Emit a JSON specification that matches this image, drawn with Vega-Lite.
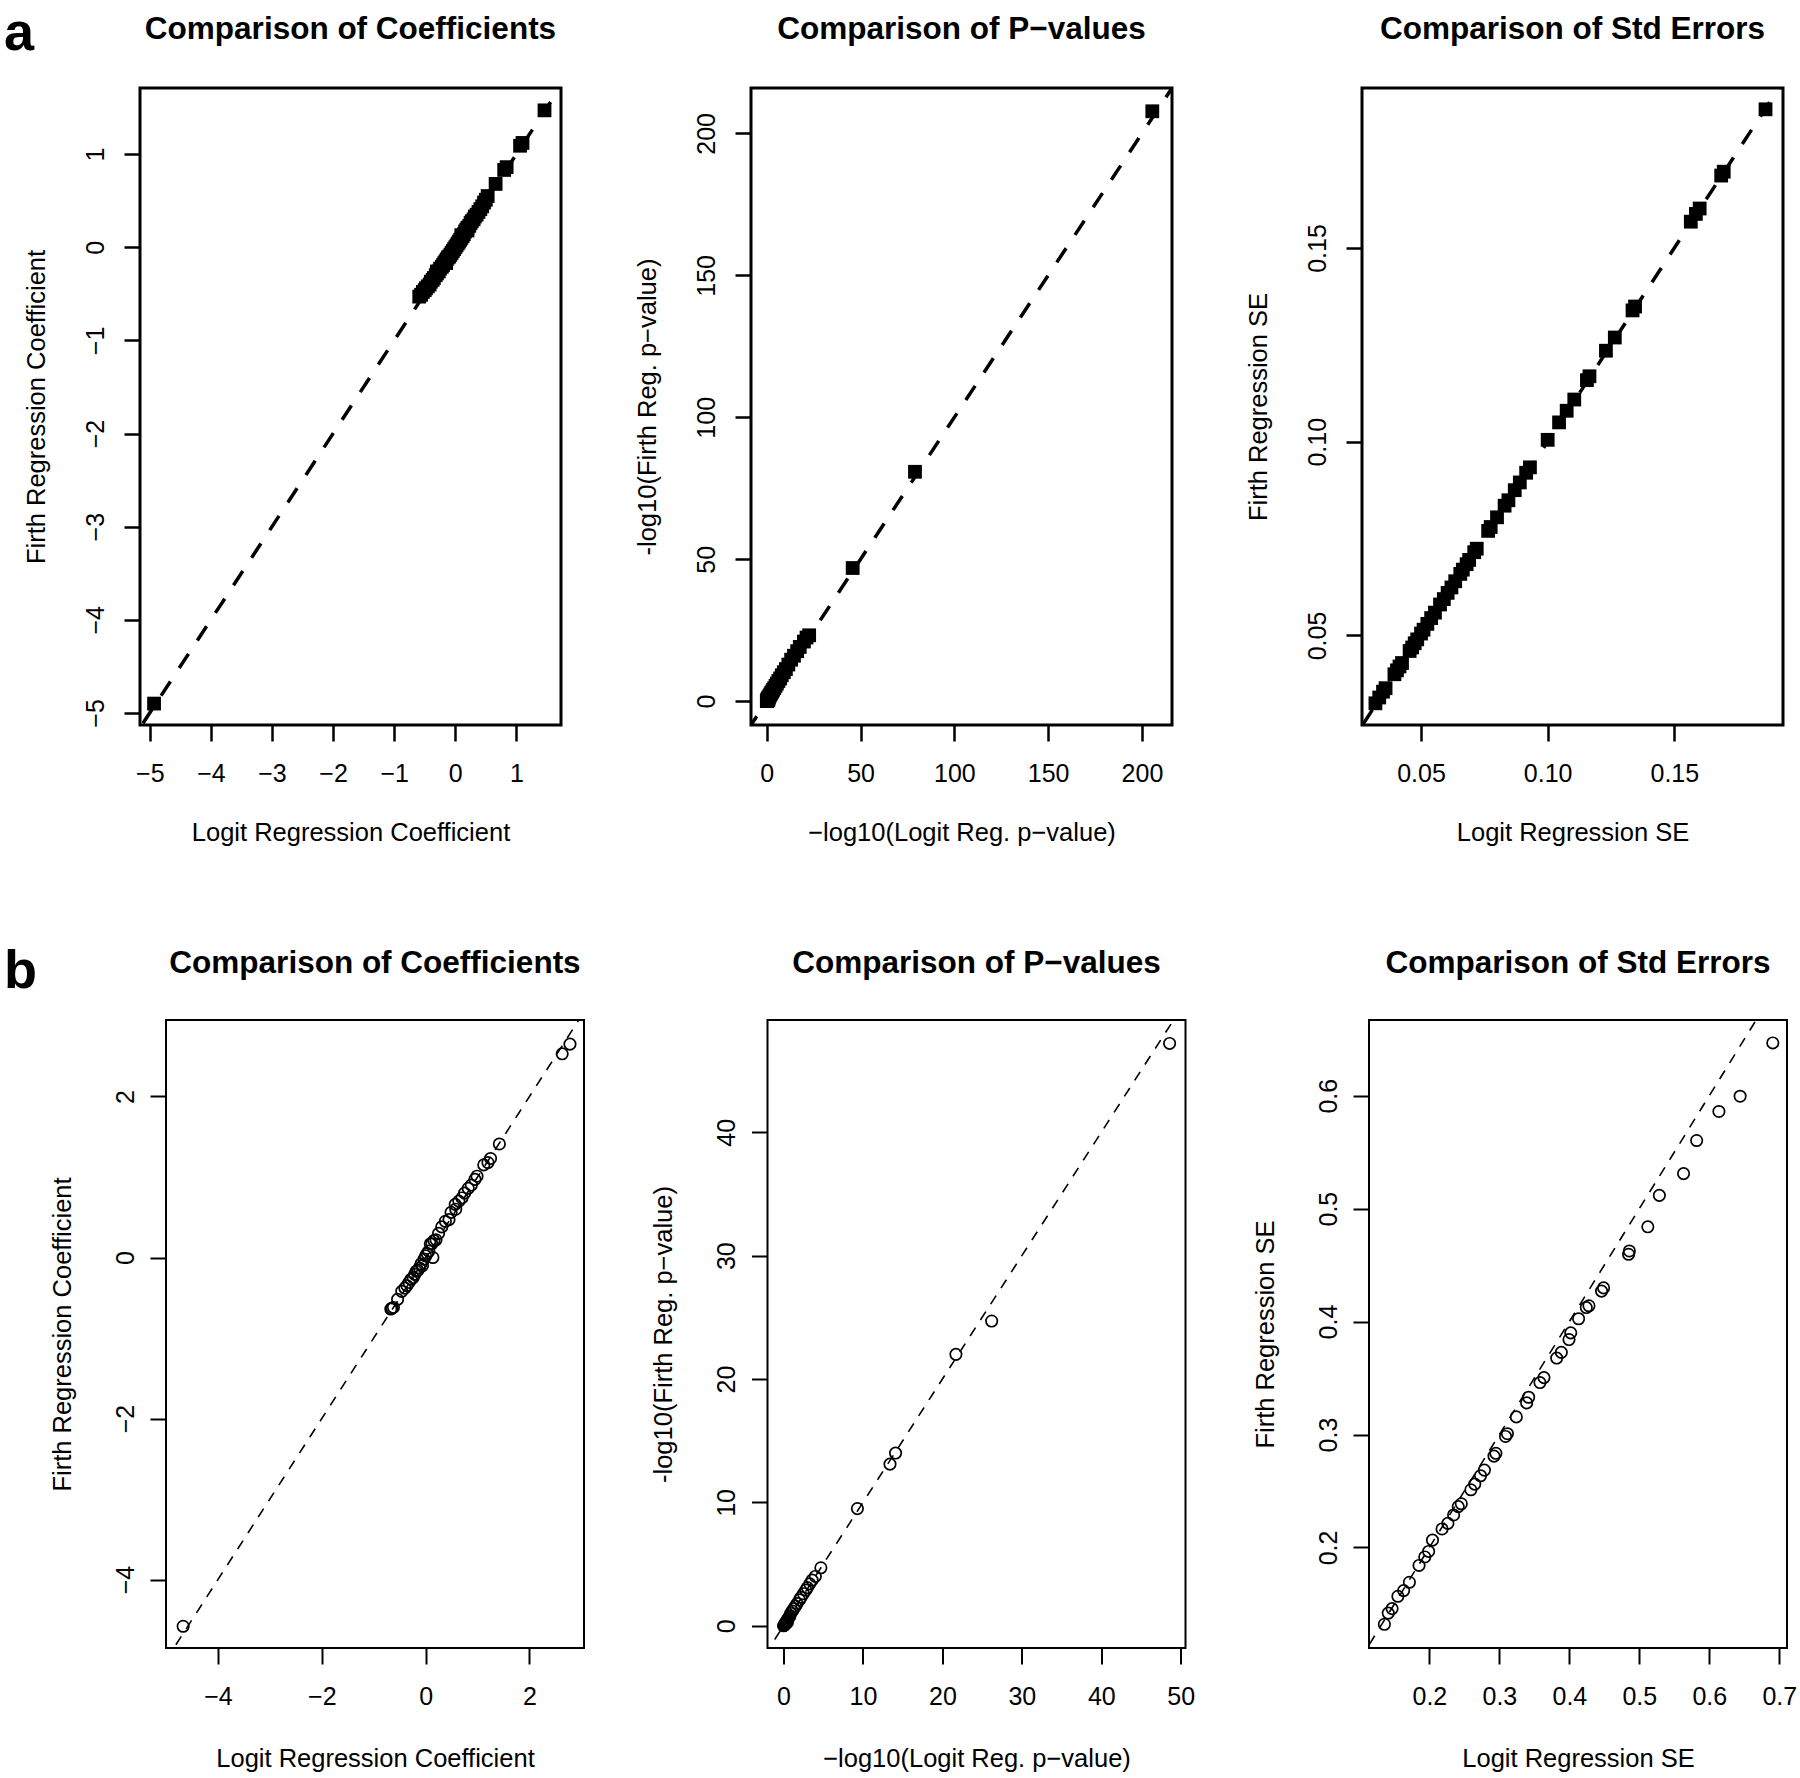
{
  "$schema": "https://vega.github.io/schema/vega-lite/v6.json",
  "background": "white",
  "padding": {"left": 4, "top": 6, "right": 0, "bottom": 0},
  "config": {
    "font": "Liberation Sans",
    "axis": {"labelFont": "Liberation Sans", "titleFont": "Liberation Sans", "labelColor": "black", "titleColor": "black", "titleFontWeight": "normal", "tickColor": "black", "domain": false, "grid": false, "labelFontSize": 25, "titleFontSize": 25.5, "tickSize": 16, "labelFlush": false, "labelOverlap": false},
    "title": {"font": "Liberation Sans", "fontSize": 31.5, "fontWeight": "bold", "color": "black", "anchor": "middle", "frame": "group", "baseline": "alphabetic", "offset": 42.7},
    "concat": {"spacing": 0}
  },
  "bounds": "flush",
  "spacing": 932,
  "vconcat": [
    {
      "bounds": "flush",
      "spacing": 0,
      "hconcat": [
        {"width": 136, "height": 637, "data": {"values": []}, "mark": "point", "view": {"stroke": null}, "title": {"text": "a", "fontSize": 54, "anchor": "start", "offset": 27.2}},
        {
          "bounds": "flush",
          "spacing": 190,
          "hconcat": [
            {
              "width": 421, "height": 637,
              "view": {"stroke": "black", "strokeWidth": 3},
              "title": {"text": "Comparison of Coefficients"},
              "encoding": {
                "x": {"field": "logit", "type": "quantitative", "scale": {"domain": [-5.16, 1.73], "nice": false, "zero": false}, "axis": {"title": "Logit Regression Coefficient", "values": [-5, -4, -3, -2, -1, 0, 1], "tickWidth": 2.5, "labelPadding": 20, "titleY": 115, "titleBaseline": "alphabetic"}},
                "y": {"field": "firth", "type": "quantitative", "scale": {"domain": [-5.13, 1.71], "nice": false, "zero": false}, "axis": {"title": "Firth Regression Coefficient", "values": [-5, -4, -3, -2, -1, 0, 1], "tickWidth": 2.5, "labelAngle": -90, "labelAlign": "center", "labelBaseline": "alphabetic", "labelPadding": 21, "titleX": -96, "titleY": 318.5, "titleAngle": -90, "titleAlign": "center", "titleBaseline": "alphabetic"}}
              },
              "layer": [
                {
                  "data": {"values": [
                    {"logit": -4.93, "firth": -4.9},
                    {"logit": -0.59, "firth": -0.53}, {"logit": -0.56, "firth": -0.51}, {"logit": -0.53, "firth": -0.48}, {"logit": -0.5, "firth": -0.46}, {"logit": -0.48, "firth": -0.44}, {"logit": -0.45, "firth": -0.42}, {"logit": -0.42, "firth": -0.4}, {"logit": -0.4, "firth": -0.37}, {"logit": -0.37, "firth": -0.35}, {"logit": -0.35, "firth": -0.33}, {"logit": -0.32, "firth": -0.3}, {"logit": -0.3, "firth": -0.28}, {"logit": -0.3, "firth": -0.26}, {"logit": -0.27, "firth": -0.26}, {"logit": -0.25, "firth": -0.23}, {"logit": -0.22, "firth": -0.21}, {"logit": -0.2, "firth": -0.19}, {"logit": -0.18, "firth": -0.17}, {"logit": -0.16, "firth": -0.15}, {"logit": -0.15, "firth": -0.17}, {"logit": -0.14, "firth": -0.13}, {"logit": -0.12, "firth": -0.11}, {"logit": -0.1, "firth": -0.1}, {"logit": -0.08, "firth": -0.08}, {"logit": -0.06, "firth": -0.06}, {"logit": -0.04, "firth": -0.04}, {"logit": -0.02, "firth": -0.02}, {"logit": 0.0, "firth": 0.0}, {"logit": 0.02, "firth": 0.02}, {"logit": 0.04, "firth": 0.04}, {"logit": 0.06, "firth": 0.06}, {"logit": 0.08, "firth": 0.08}, {"logit": 0.1, "firth": 0.1}, {"logit": 0.1, "firth": 0.13}, {"logit": 0.12, "firth": 0.12}, {"logit": 0.14, "firth": 0.14}, {"logit": 0.16, "firth": 0.17}, {"logit": 0.18, "firth": 0.19}, {"logit": 0.2, "firth": 0.21}, {"logit": 0.2, "firth": 0.18}, {"logit": 0.23, "firth": 0.23}, {"logit": 0.25, "firth": 0.26}, {"logit": 0.27, "firth": 0.28}, {"logit": 0.3, "firth": 0.3}, {"logit": 0.32, "firth": 0.33}, {"logit": 0.35, "firth": 0.35}, {"logit": 0.38, "firth": 0.38}, {"logit": 0.41, "firth": 0.41}, {"logit": 0.44, "firth": 0.44}, {"logit": 0.47, "firth": 0.48}, {"logit": 0.5, "firth": 0.51}, {"logit": 0.53, "firth": 0.55},
                    {"logit": 0.66, "firth": 0.68}, {"logit": 0.8, "firth": 0.83}, {"logit": 0.84, "firth": 0.86}, {"logit": 1.06, "firth": 1.09}, {"logit": 1.1, "firth": 1.12}, {"logit": 1.46, "firth": 1.47}
                  ]},
                  "mark": {"type": "point", "shape": "square", "filled": true, "color": "black", "opacity": 1, "size": 190}
                },
                {
                  "data": {"values": [{"logit": -6, "firth": -6, "logit_end": 2, "firth_end": 2}]},
                  "mark": {"type": "rule", "color": "black", "strokeWidth": 3.5, "strokeDash": [17, 16], "clip": true},
                  "encoding": {"x2": {"field": "logit_end"}, "y2": {"field": "firth_end"}}
                }
              ]
            },
            {
              "width": 421, "height": 637,
              "view": {"stroke": "black", "strokeWidth": 3},
              "title": {"text": "Comparison of P−values"},
              "encoding": {
                "x": {"field": "logit", "type": "quantitative", "scale": {"domain": [-8.4, 216], "nice": false, "zero": false}, "axis": {"title": "−log10(Logit Reg. p−value)", "values": [0, 50, 100, 150, 200], "tickWidth": 2.5, "labelPadding": 20, "titleY": 115, "titleBaseline": "alphabetic"}},
                "y": {"field": "firth", "type": "quantitative", "scale": {"domain": [-8.4, 216], "nice": false, "zero": false}, "axis": {"title": "-log10(Firth Reg. p−value)", "values": [0, 50, 100, 150, 200], "tickWidth": 2.5, "labelAngle": -90, "labelAlign": "center", "labelBaseline": "alphabetic", "labelPadding": 21, "titleX": -96, "titleY": 318.5, "titleAngle": -90, "titleAlign": "center", "titleBaseline": "alphabetic"}}
              },
              "layer": [
                {
                  "data": {"values": [
                    {"logit": 205.5, "firth": 207.8}, {"logit": 79.0, "firth": 80.8}, {"logit": 45.8, "firth": 46.9}, {"logit": 22.6, "firth": 23.2}, {"logit": 21.2, "firth": 22.4}, {"logit": 19.8, "firth": 21.0}, {"logit": 17.6, "firth": 19.1}, {"logit": 16.2, "firth": 17.6}, {"logit": 14.5, "firth": 16.0}, {"logit": 13.0, "firth": 14.6}, {"logit": 11.5, "firth": 12.9}, {"logit": 10.2, "firth": 11.3}, {"logit": 9.1, "firth": 10.2}, {"logit": 8.0, "firth": 9.1}, {"logit": 7.1, "firth": 8.0}, {"logit": 6.2, "firth": 7.1}, {"logit": 5.4, "firth": 6.2}, {"logit": 4.7, "firth": 5.4}, {"logit": 4.0, "firth": 4.6}, {"logit": 3.4, "firth": 4.0}, {"logit": 2.9, "firth": 3.4}, {"logit": 2.4, "firth": 2.9}, {"logit": 2.0, "firth": 2.4}, {"logit": 1.6, "firth": 2.0}, {"logit": 1.3, "firth": 1.6}, {"logit": 1.0, "firth": 1.3}, {"logit": 0.8, "firth": 1.0}, {"logit": 0.6, "firth": 0.8}, {"logit": 0.45, "firth": 0.55}, {"logit": 0.3, "firth": 0.38}, {"logit": 0.2, "firth": 0.25}, {"logit": 0.12, "firth": 0.15}, {"logit": 0.06, "firth": 0.08}, {"logit": 0.02, "firth": 0.03}, {"logit": 0.5, "firth": 0.3}, {"logit": 0.9, "firth": 0.6}, {"logit": 0.25, "firth": 0.1}
                  ]},
                  "mark": {"type": "point", "shape": "square", "filled": true, "color": "black", "opacity": 1, "size": 190}
                },
                {
                  "data": {"values": [{"logit": -20, "firth": -20, "logit_end": 230, "firth_end": 230}]},
                  "mark": {"type": "rule", "color": "black", "strokeWidth": 3.5, "strokeDash": [17, 16], "clip": true},
                  "encoding": {"x2": {"field": "logit_end"}, "y2": {"field": "firth_end"}}
                }
              ]
            },
            {
              "width": 421, "height": 637,
              "view": {"stroke": "black", "strokeWidth": 3},
              "title": {"text": "Comparison of Std Errors"},
              "encoding": {
                "x": {"field": "logit", "type": "quantitative", "scale": {"domain": [0.0267, 0.1929], "nice": false, "zero": false}, "axis": {"title": "Logit Regression SE", "values": [0.05, 0.1, 0.15], "format": ".2f", "tickWidth": 2.5, "labelPadding": 20, "titleY": 115, "titleBaseline": "alphabetic"}},
                "y": {"field": "firth", "type": "quantitative", "scale": {"domain": [0.0269, 0.1913], "nice": false, "zero": false}, "axis": {"title": "Firth Regression SE", "values": [0.05, 0.1, 0.15], "format": ".2f", "tickWidth": 2.5, "labelAngle": -90, "labelAlign": "center", "labelBaseline": "alphabetic", "labelPadding": 21, "titleX": -96, "titleY": 318.5, "titleAngle": -90, "titleAlign": "center", "titleBaseline": "alphabetic"}}
              },
              "layer": [
                {
                  "data": {"values": [
                    {"logit": 0.032, "firth": 0.0325}, {"logit": 0.0335, "firth": 0.034}, {"logit": 0.035, "firth": 0.0355}, {"logit": 0.036, "firth": 0.0364}, {"logit": 0.0395, "firth": 0.04}, {"logit": 0.0405, "firth": 0.041}, {"logit": 0.0415, "firth": 0.042}, {"logit": 0.0425, "firth": 0.0429}, {"logit": 0.0455, "firth": 0.046}, {"logit": 0.0465, "firth": 0.0469}, {"logit": 0.0475, "firth": 0.048}, {"logit": 0.0485, "firth": 0.049}, {"logit": 0.05, "firth": 0.0505}, {"logit": 0.051, "firth": 0.0515}, {"logit": 0.0525, "firth": 0.053}, {"logit": 0.054, "firth": 0.0545}, {"logit": 0.0555, "firth": 0.0559}, {"logit": 0.0575, "firth": 0.058}, {"logit": 0.059, "firth": 0.0594}, {"logit": 0.0605, "firth": 0.061}, {"logit": 0.062, "firth": 0.0624}, {"logit": 0.0635, "firth": 0.064}, {"logit": 0.0655, "firth": 0.0659}, {"logit": 0.0665, "firth": 0.067}, {"logit": 0.068, "firth": 0.0684}, {"logit": 0.069, "firth": 0.0695}, {"logit": 0.071, "firth": 0.0715}, {"logit": 0.072, "firth": 0.0724}, {"logit": 0.0765, "firth": 0.077}, {"logit": 0.0775, "firth": 0.078}, {"logit": 0.08, "firth": 0.0805}, {"logit": 0.083, "firth": 0.0835}, {"logit": 0.0845, "firth": 0.0849}, {"logit": 0.087, "firth": 0.0875}, {"logit": 0.089, "firth": 0.0895}, {"logit": 0.0915, "firth": 0.092}, {"logit": 0.093, "firth": 0.0934}, {"logit": 0.1, "firth": 0.1005}, {"logit": 0.1045, "firth": 0.105}, {"logit": 0.1075, "firth": 0.108}, {"logit": 0.1105, "firth": 0.1109}, {"logit": 0.1155, "firth": 0.1159}, {"logit": 0.1165, "firth": 0.1169}, {"logit": 0.123, "firth": 0.1235}, {"logit": 0.1265, "firth": 0.1269}, {"logit": 0.1335, "firth": 0.1339}, {"logit": 0.1345, "firth": 0.1349}, {"logit": 0.1565, "firth": 0.1568}, {"logit": 0.1585, "firth": 0.1588}, {"logit": 0.16, "firth": 0.1602}, {"logit": 0.1685, "firth": 0.1687}, {"logit": 0.1695, "firth": 0.1697}, {"logit": 0.186, "firth": 0.1858}
                  ]},
                  "mark": {"type": "point", "shape": "square", "filled": true, "color": "black", "opacity": 1, "size": 190}
                },
                {
                  "data": {"values": [{"logit": 0.02, "firth": 0.02, "logit_end": 0.2, "firth_end": 0.2}]},
                  "mark": {"type": "rule", "color": "black", "strokeWidth": 3.5, "strokeDash": [17, 16], "clip": true},
                  "encoding": {"x2": {"field": "logit_end"}, "y2": {"field": "firth_end"}}
                }
              ]
            }
          ]
        }
      ]
    },
    {
      "bounds": "flush",
      "spacing": 0,
      "hconcat": [
        {"width": 162, "height": 628, "data": {"values": []}, "mark": "point", "view": {"stroke": null}, "title": {"text": "b", "fontSize": 54, "anchor": "start", "offset": 21.2}},
        {
          "bounds": "flush",
          "spacing": 183.5,
          "hconcat": [
            {
              "width": 418, "height": 628,
              "view": {"stroke": "black", "strokeWidth": 2},
              "title": {"text": "Comparison of Coefficients", "offset": 40.7},
              "encoding": {
                "x": {"field": "logit", "type": "quantitative", "scale": {"domain": [-5.0, 3.05], "nice": false, "zero": false}, "axis": {"title": "Logit Regression Coefficient", "values": [-4, -2, 0, 2], "tickWidth": 2, "labelPadding": 20, "titleY": 118, "titleBaseline": "alphabetic"}},
                "y": {"field": "firth", "type": "quantitative", "scale": {"domain": [-4.85, 2.95], "nice": false, "zero": false}, "axis": {"title": "Firth Regression Coefficient", "values": [-4, -2, 0, 2], "tickWidth": 2, "labelAngle": -90, "labelAlign": "center", "labelBaseline": "alphabetic", "labelPadding": 17, "titleX": -96, "titleY": 314, "titleAngle": -90, "titleAlign": "center", "titleBaseline": "alphabetic"}}
              },
              "layer": [
                {
                  "data": {"values": [
                    {"logit": -4.67, "firth": -4.58}, {"logit": 2.63, "firth": 2.53}, {"logit": 2.78, "firth": 2.65}, {"logit": 1.42, "firth": 1.41}, {"logit": 1.25, "firth": 1.23}, {"logit": 1.2, "firth": 1.18}, {"logit": 1.12, "firth": 1.15}, {"logit": 0.99, "firth": 1.01}, {"logit": 0.95, "firth": 0.97}, {"logit": 0.88, "firth": 0.9}, {"logit": 0.82, "firth": 0.86}, {"logit": 0.75, "firth": 0.8}, {"logit": 0.7, "firth": 0.74}, {"logit": 0.64, "firth": 0.7}, {"logit": 0.57, "firth": 0.66}, {"logit": 0.58, "firth": 0.6}, {"logit": 0.49, "firth": 0.56}, {"logit": 0.45, "firth": 0.47}, {"logit": 0.38, "firth": 0.45}, {"logit": 0.31, "firth": 0.38}, {"logit": 0.25, "firth": 0.3}, {"logit": 0.2, "firth": 0.22}, {"logit": 0.16, "firth": 0.21}, {"logit": 0.12, "firth": 0.17}, {"logit": 0.09, "firth": 0.17}, {"logit": 0.14, "firth": 0.0}, {"logit": 0.06, "firth": 0.08}, {"logit": 0.03, "firth": 0.05}, {"logit": 0.0, "firth": 0.02}, {"logit": -0.03, "firth": -0.02}, {"logit": -0.06, "firth": -0.1}, {"logit": -0.09, "firth": -0.08}, {"logit": -0.12, "firth": -0.13}, {"logit": -0.15, "firth": -0.16}, {"logit": -0.18, "firth": -0.17}, {"logit": -0.21, "firth": -0.21}, {"logit": -0.24, "firth": -0.25}, {"logit": -0.28, "firth": -0.27}, {"logit": -0.32, "firth": -0.31}, {"logit": -0.36, "firth": -0.35}, {"logit": -0.4, "firth": -0.38}, {"logit": -0.46, "firth": -0.42}, {"logit": -0.54, "firth": -0.52}, {"logit": -0.62, "firth": -0.62}, {"logit": -0.65, "firth": -0.63}, {"logit": -0.67, "firth": -0.64}
                  ]},
                  "mark": {"type": "point", "shape": "circle", "filled": false, "color": "black", "opacity": 1, "size": 130, "strokeWidth": 1.7}
                },
                {
                  "data": {"values": [{"logit": -6, "firth": -6, "logit_end": 4, "firth_end": 4}]},
                  "mark": {"type": "rule", "color": "black", "strokeWidth": 1.6, "strokeDash": [10, 9], "clip": true},
                  "encoding": {"x2": {"field": "logit_end"}, "y2": {"field": "firth_end"}}
                }
              ]
            },
            {
              "width": 418, "height": 628,
              "view": {"stroke": "black", "strokeWidth": 2},
              "title": {"text": "Comparison of P−values", "offset": 40.7},
              "encoding": {
                "x": {"field": "logit", "type": "quantitative", "scale": {"domain": [-2.02, 50.6], "nice": false, "zero": false}, "axis": {"title": "−log10(Logit Reg. p−value)", "values": [0, 10, 20, 30, 40, 50], "tickWidth": 2, "labelPadding": 20, "titleY": 118, "titleBaseline": "alphabetic"}},
                "y": {"field": "firth", "type": "quantitative", "scale": {"domain": [-1.8, 49.1], "nice": false, "zero": false}, "axis": {"title": "-log10(Firth Reg. p−value)", "values": [0, 10, 20, 30, 40], "tickWidth": 2, "labelAngle": -90, "labelAlign": "center", "labelBaseline": "alphabetic", "labelPadding": 17, "titleX": -96, "titleY": 314, "titleAngle": -90, "titleAlign": "center", "titleBaseline": "alphabetic"}}
              },
              "layer": [
                {
                  "data": {"values": [
                    {"logit": 48.6, "firth": 47.2}, {"logit": 26.2, "firth": 24.7}, {"logit": 21.7, "firth": 22.0}, {"logit": 14.1, "firth": 14.0}, {"logit": 13.4, "firth": 13.1}, {"logit": 9.3, "firth": 9.5}, {"logit": 4.7, "firth": 4.7}, {"logit": 4.0, "firth": 4.0}, {"logit": 3.6, "firth": 3.7}, {"logit": 3.3, "firth": 3.4}, {"logit": 3.0, "firth": 3.1}, {"logit": 2.8, "firth": 2.9}, {"logit": 2.5, "firth": 2.6}, {"logit": 2.2, "firth": 2.3}, {"logit": 2.0, "firth": 2.1}, {"logit": 1.7, "firth": 1.8}, {"logit": 1.5, "firth": 1.6}, {"logit": 1.3, "firth": 1.4}, {"logit": 1.1, "firth": 1.2}, {"logit": 0.9, "firth": 1.0}, {"logit": 0.8, "firth": 0.8}, {"logit": 0.7, "firth": 0.7}, {"logit": 0.6, "firth": 0.6}, {"logit": 0.5, "firth": 0.5}, {"logit": 0.4, "firth": 0.4}, {"logit": 0.3, "firth": 0.3}, {"logit": 0.2, "firth": 0.2}, {"logit": 0.15, "firth": 0.1}, {"logit": 0.1, "firth": 0.05}, {"logit": 0.05, "firth": 0.02}, {"logit": 0.3, "firth": 0.15}, {"logit": 0.5, "firth": 0.3}, {"logit": 0.0, "firth": 0.0}
                  ]},
                  "mark": {"type": "point", "shape": "circle", "filled": false, "color": "black", "opacity": 1, "size": 130, "strokeWidth": 1.7}
                },
                {
                  "data": {"values": [{"logit": -5, "firth": -5, "logit_end": 55, "firth_end": 55}]},
                  "mark": {"type": "rule", "color": "black", "strokeWidth": 1.6, "strokeDash": [10, 9], "clip": true},
                  "encoding": {"x2": {"field": "logit_end"}, "y2": {"field": "firth_end"}}
                }
              ]
            },
            {
              "width": 418, "height": 628,
              "view": {"stroke": "black", "strokeWidth": 2},
              "title": {"text": "Comparison of Std Errors", "offset": 40.7},
              "encoding": {
                "x": {"field": "logit", "type": "quantitative", "scale": {"domain": [0.1137, 0.711], "nice": false, "zero": false}, "axis": {"title": "Logit Regression SE", "values": [0.2, 0.3, 0.4, 0.5, 0.6, 0.7], "format": ".1f", "tickWidth": 2, "labelPadding": 20, "titleY": 118, "titleBaseline": "alphabetic"}},
                "y": {"field": "firth", "type": "quantitative", "scale": {"domain": [0.111, 0.667], "nice": false, "zero": false}, "axis": {"title": "Firth Regression SE", "values": [0.2, 0.3, 0.4, 0.5, 0.6], "format": ".1f", "tickWidth": 2, "labelAngle": -90, "labelAlign": "center", "labelBaseline": "alphabetic", "labelPadding": 17, "titleX": -96, "titleY": 314, "titleAngle": -90, "titleAlign": "center", "titleBaseline": "alphabetic"}}
              },
              "layer": [
                {
                  "data": {"values": [
                    {"logit": 0.6907, "firth": 0.6467}, {"logit": 0.644, "firth": 0.5995}, {"logit": 0.6137, "firth": 0.586}, {"logit": 0.5819, "firth": 0.5603}, {"logit": 0.5632, "firth": 0.531}, {"logit": 0.5286, "firth": 0.5117}, {"logit": 0.5121, "firth": 0.4839}, {"logit": 0.4857, "firth": 0.4625}, {"logit": 0.4846, "firth": 0.4596}, {"logit": 0.4489, "firth": 0.4298}, {"logit": 0.446, "firth": 0.427}, {"logit": 0.428, "firth": 0.414}, {"logit": 0.4242, "firth": 0.4124}, {"logit": 0.4132, "firth": 0.4025}, {"logit": 0.402, "firth": 0.39}, {"logit": 0.3995, "firth": 0.3841}, {"logit": 0.3885, "firth": 0.3727}, {"logit": 0.3819, "firth": 0.3677}, {"logit": 0.3637, "firth": 0.3504}, {"logit": 0.358, "firth": 0.346}, {"logit": 0.3418, "firth": 0.333}, {"logit": 0.339, "firth": 0.328}, {"logit": 0.3242, "firth": 0.3156}, {"logit": 0.3115, "firth": 0.3007}, {"logit": 0.3088, "firth": 0.2983}, {"logit": 0.295, "firth": 0.2834}, {"logit": 0.2923, "firth": 0.2809}, {"logit": 0.2786, "firth": 0.2685}, {"logit": 0.2731, "firth": 0.2635}, {"logit": 0.2648, "firth": 0.2561}, {"logit": 0.2593, "firth": 0.2511}, {"logit": 0.2456, "firth": 0.2387}, {"logit": 0.2412, "firth": 0.2362}, {"logit": 0.2346, "firth": 0.2288}, {"logit": 0.2264, "firth": 0.2213}, {"logit": 0.2181, "firth": 0.2164}, {"logit": 0.2044, "firth": 0.2065}, {"logit": 0.1989, "firth": 0.1965}, {"logit": 0.1934, "firth": 0.1916}, {"logit": 0.1852, "firth": 0.1841}, {"logit": 0.1714, "firth": 0.1692}, {"logit": 0.1632, "firth": 0.1618}, {"logit": 0.155, "firth": 0.1568}, {"logit": 0.1467, "firth": 0.1459}, {"logit": 0.1412, "firth": 0.1419}, {"logit": 0.1357, "firth": 0.132}
                  ]},
                  "mark": {"type": "point", "shape": "circle", "filled": false, "color": "black", "opacity": 1, "size": 130, "strokeWidth": 1.7}
                },
                {
                  "data": {"values": [{"logit": 0.1, "firth": 0.1, "logit_end": 0.8, "firth_end": 0.8}]},
                  "mark": {"type": "rule", "color": "black", "strokeWidth": 1.6, "strokeDash": [10, 9], "clip": true},
                  "encoding": {"x2": {"field": "logit_end"}, "y2": {"field": "firth_end"}}
                }
              ]
            }
          ]
        }
      ]
    }
  ]
}
